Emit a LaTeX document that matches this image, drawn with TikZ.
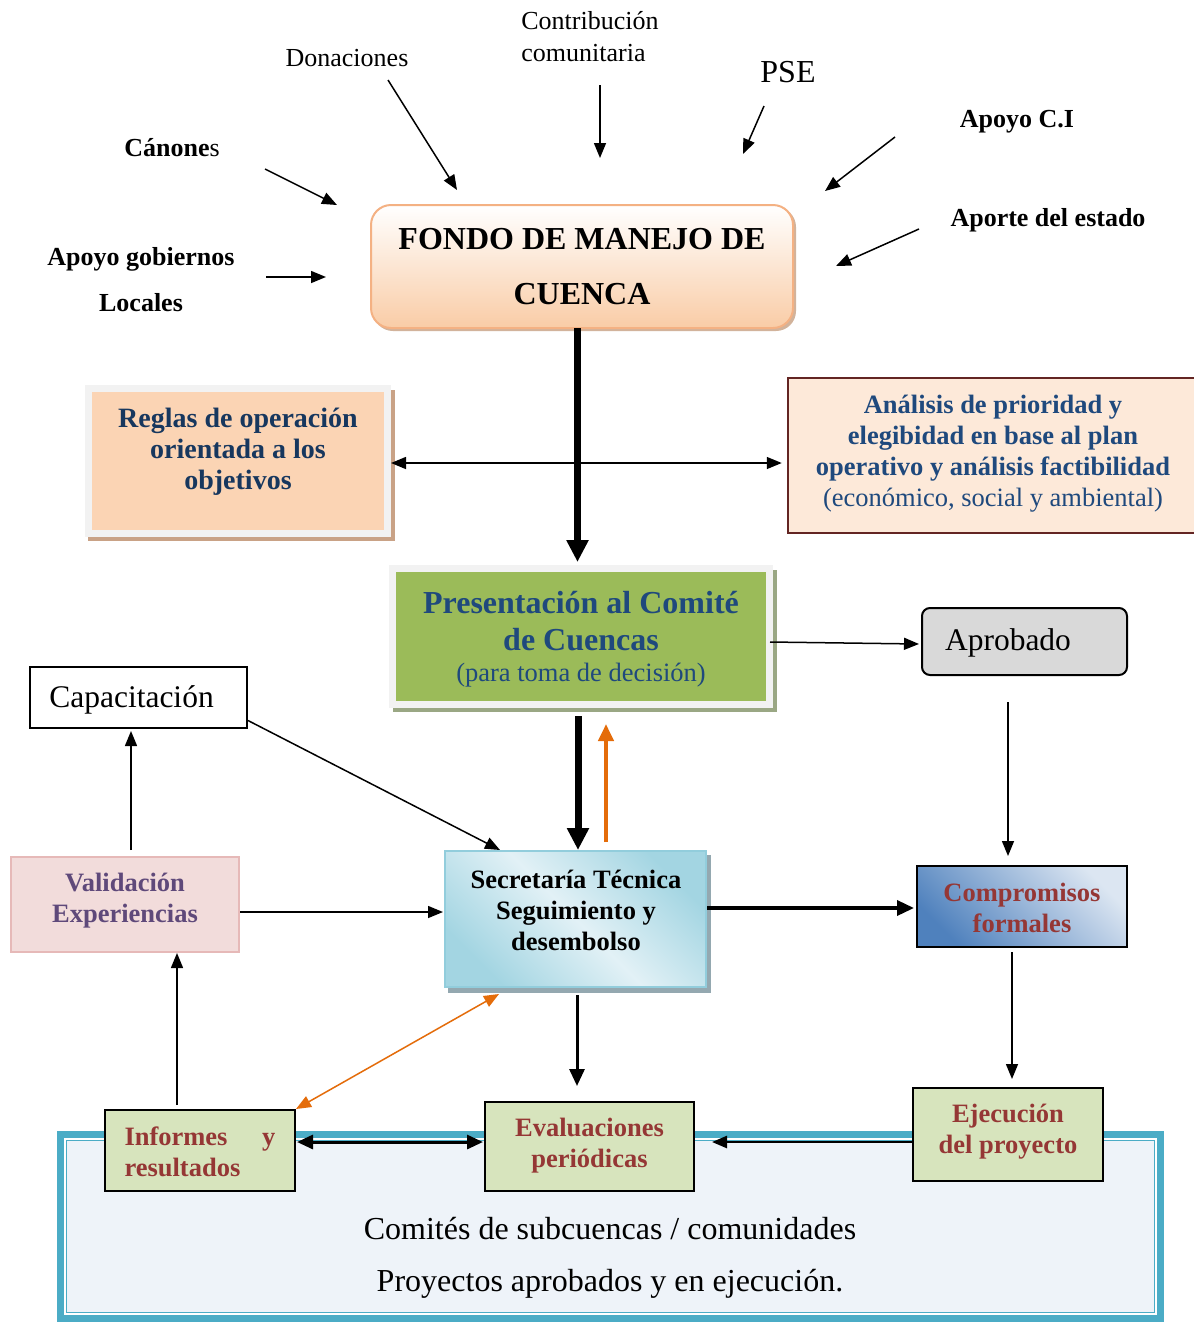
\documentclass[tikz,border=0pt]{standalone}
\usepackage{fontspec}
\setmainfont{Liberation Serif}
\usetikzlibrary{arrows.meta,calc}

\newcommand\myfs[2]{\fontsize{#1}{#2}\selectfont}

\definecolor{peachedge}{HTML}{F4B183}
\definecolor{peachbot}{HTML}{F9CCA6}
\definecolor{peachshadow}{HTML}{D2B39B}
\definecolor{rulefill}{HTML}{FBD4B4}
\definecolor{framegray}{HTML}{F2F2F2}
\definecolor{ruleshadow}{HTML}{C9A286}
\definecolor{prioedge}{HTML}{632523}
\definecolor{priofill}{HTML}{FDE9D9}
\definecolor{navyA}{HTML}{17375E}
\definecolor{navyB}{HTML}{1F497D}
\definecolor{olive}{HTML}{9BBB59}
\definecolor{oliveshadow}{HTML}{9AA784}
\definecolor{apgray}{HTML}{D9D9D9}
\definecolor{valfill}{HTML}{F2DCDB}
\definecolor{valedge}{HTML}{E6B9B8}
\definecolor{valtext}{HTML}{5F497A}
\definecolor{aquadark}{HTML}{A3D5E2}
\definecolor{aqualight}{HTML}{E2F1F6}
\definecolor{aquaedge}{HTML}{92CDDC}
\definecolor{aquashadow}{HTML}{94A8B0}
\definecolor{steel}{HTML}{4F81BD}
\definecolor{steellight}{HTML}{DCE6F2}
\definecolor{brick}{HTML}{953735}
\definecolor{sage}{HTML}{D7E4BD}
\definecolor{tealedge}{HTML}{4BACC6}
\definecolor{basefill}{HTML}{EEF3F9}
\definecolor{flame}{HTML}{E46C0A}

\begin{document}
\begin{tikzpicture}[x=1pt,y=-1pt,
  every node/.style={inner sep=0pt},
  srcreg/.style={font=\myfs{26}{32}, align=center},
  srcbold/.style={font=\myfs{26}{32}\bfseries, align=center},
  boxtxt/.style={font=\myfs{26.5}{31}\bfseries, align=center},
  arr/.style={line width=1.5pt, -{Triangle[length=15pt,width=12pt]}},
  darr/.style={line width=1.5pt, {Triangle[length=15pt,width=12pt]}-{Triangle[length=15pt,width=12pt]}},
  midarr/.style={line width=3.5pt, -{Triangle[length=17pt,width=15pt]}},
  fatarr/.style={line width=6.5pt, -{Triangle[length=22pt,width=21pt]}},
  sagebox/.style={fill=sage, draw=black, line width=2pt},
]
\useasboundingbox (0,0) rectangle (1194,1323);
\fill[white] (0,0) rectangle (1194,1323);

% ---- sources of funding ----
\node[srcreg] (don) at (347,58) {Donaciones};
\node[srcreg, align=left] (contrib) at (590,37) {Contribución\\comunitaria};
\node[font=\myfs{32}{36}] (pse) at (788,72) {PSE};
\node[srcbold] (apci) at (1017,122) {Apoyo C.I};
\node[srcbold] (can) at (172,148) {Cánone{\mdseries s}};
\node[srcbold] (estado) at (1048,220) {Aporte del estado};
\node[font=\myfs{26}{46}\bfseries, align=center] (gob) at (141,280) {Apoyo gobiernos\\Locales};

\coordinate (canA) at (265,169);  \coordinate (canB) at (337,205);
\coordinate (donA) at (388,80);   \coordinate (donB) at (457,190);
\coordinate (conA) at (600,85);   \coordinate (conB) at (600,158);
\coordinate (pseA) at (764,106);  \coordinate (pseB) at (743,154);
\coordinate (apcA) at (895,137);  \coordinate (apcB) at (825,191);
\coordinate (estA) at (919,229);  \coordinate (estB) at (836,266);
\coordinate (gobA) at (266,277);  \coordinate (gobB) at (326,277);

% ---- fund ----
\fill[peachshadow, rounded corners=20pt] (373,207) rectangle (796,331);
\node[draw=peachedge, line width=2pt, rounded corners=20pt,
      top color=white, bottom color=peachbot,
      minimum width=422pt, minimum height=123pt,
      font=\myfs{32}{55}\bfseries, align=center] (fondo) at (582,266.5)
      {FONDO DE MANEJO DE\\CUENCA};

% ---- operating rules ----
\fill[ruleshadow] (88,390) rectangle (395,541);
\node[fill=rulefill, draw=framegray, line width=7pt,
      minimum width=299pt, minimum height=145pt] (reglas) at (238,461) {};
\node[font=\myfs{28}{31}\bfseries, text=navyA, align=center] (reglasT) at (238,452)
      {Reglas de operación\\orientada a los\\objetivos};

% ---- priority analysis ----
\node[fill=priofill, draw=prioedge, line width=2.5pt,
      minimum width=410pt, minimum height=155pt] (anal) at (993,455.5) {};
\node[font=\myfs{26.5}{31}, text=navyB, align=center] (analT) at (993,454)
      {\textbf{Análisis de prioridad y}\\\textbf{elegibidad en base al plan}\\
       \textbf{operativo y análisis factibilidad}\\(económico, social y ambiental)};

% ---- committee ----
\fill[oliveshadow] (393,570) rectangle (777,712);
\node[fill=olive, draw=framegray, line width=7pt,
      minimum width=377pt, minimum height=136pt] (pres) at (581,636.5) {};
\node[font=\myfs{32}{37}\bfseries, text=navyB, align=center] (presT) at (581,621)
      {Presentación al Comité\\de Cuencas};
\node[font=\myfs{26.5}{30}, text=navyB] (presS) at (581,675) {(para toma de decisión)};

% ---- approved ----
\node[fill=apgray, draw=black, line width=2pt, rounded corners=8pt,
      minimum width=205pt, minimum height=67pt] (aprob) at (1024.5,641.5) {};
\node[font=\myfs{31.5}{36}] (aprobT) at (1008,643) {Aprobado};

% ---- training ----
\node[fill=white, draw=black, line width=2pt,
      minimum width=217pt, minimum height=61pt] (cap) at (138.5,697.5) {};
\node[font=\myfs{31.5}{36}] (capT) at (131.5,700) {Capacitación};

% ---- validation ----
\node[fill=valfill, draw=valedge, line width=2pt,
      minimum width=228pt, minimum height=95pt] (val) at (125,904.5) {};
\node[boxtxt, text=valtext] (valT) at (125,901) {Validación\\Experiencias};

% ---- technical secretariat ----
\fill[aquashadow] (448,855) rectangle (711,993);
\node[draw=aquaedge, line width=2pt,
      top color=aquadark, bottom color=aquadark, middle color=aqualight, shading angle=-45,
      minimum width=261pt, minimum height=136pt] (sec) at (575.5,919) {};
\node[boxtxt, text=black] (secT) at (576,910) {Secretaría Técnica\\Seguimiento y\\desembolso};

% ---- commitments ----
\node[draw=black, line width=2pt,
      top color=steellight, bottom color=steel, shading angle=-45,
      minimum width=210pt, minimum height=81pt] (comp) at (1022,906.5) {};
\node[boxtxt, text=brick] (compT) at (1022,908) {Compromisos\\formales};

% ---- sub-basin committees ----
\node[fill=basefill, draw=tealedge, line width=7pt,
      minimum width=1100pt, minimum height=184pt] (base) at (610.5,1226.5) {};
\draw[white, line width=2.5pt] ($(base.south west)+(8,-8)$) rectangle ($(base.north east)+(-8,8)$);
\draw[tealedge, line width=1.6pt] ($(base.south west)+(9.5,-9.5)$) rectangle ($(base.north east)+(-9.5,9.5)$);
\node[font=\myfs{32}{36}] (baseA) at (610,1229) {Comités de subcuencas / comunidades};
\node[font=\myfs{32}{36}] (baseB) at (610,1284) {Proyectos aprobados y en ejecución.};

\node[sagebox, minimum width=190pt, minimum height=81pt] (inf) at (200,1150.5) {};
\node[boxtxt, text=brick, text width=151pt, align=left] (infT) at (200,1152)
      {Informes\hfill y\\resultados};
\node[sagebox, minimum width=209pt, minimum height=89pt] (eval) at (589.5,1146.5) {};
\node[boxtxt, text=brick] (evalT) at (589.5,1145.5) {Evaluaciones\\periódicas};
\node[sagebox, minimum width=190pt, minimum height=93pt] (ejec) at (1008,1134.5) {};
\node[boxtxt, text=brick] (ejecT) at (1008,1131.5) {Ejecución\\del proyecto};

% ---- connectors ----
\draw[arr] (canA) -- (canB);
\draw[arr] (donA) -- (donB);
\draw[arr] (conA) -- (conB);
\draw[arr] (pseA) -- (pseB);
\draw[arr] (apcA) -- (apcB);
\draw[arr] (estA) -- (estB);
\draw[arr] (gobA) -- (gobB);

\draw[fatarr] ($(fondo.south)+(-4.5,-1)$) -- ($(pres.north)+(-3.5,-3)$);
\draw[darr] ($(reglas.east)+(0,2)$) -- ($(anal.west)+(-5,7.5)$);
\draw[arr] ($(pres.east)+(-3,5.5)$) -- ($(aprob.west)+(-2,2.5)$);
\draw[arr] ($(aprob.south)+(-16.5,26)$) -- ($(comp.north)+(-14,-9)$);

\draw[fatarr, line width=7pt] ($(pres.south)+(-3,8)$) -- ($(sec.north)+(2.5,0)$);
\draw[line width=4pt, flame, -{Triangle[length=17pt,width=15pt]}] ($(sec.north)+(30.5,-8)$) -- ($(pres.south)+(25,16)$);

\draw[arr] ($(cap.east)+(0,23)$) -- ($(sec.north)+(-75.5,0)$);
\draw[arr] ($(val.north)+(6,-6)$) -- ($(cap.south)+(-7.5,2)$);
\draw[arr] ($(val.east)+(0,7.5)$) -- ($(sec.west)+(-1,-7)$);
\draw[midarr] ($(sec.east)+(0,-11)$) -- ($(comp.west)+(-2,1.5)$);
\draw[midarr, line width=3pt] ($(sec.south)+(1.5,7)$) -- ($(eval.north)+(-12.5,-15)$);
\draw[darr, flame] ($(sec.south)+(-76.5,6)$) -- (inf.north east);

\draw[arr] ($(inf.north)+(-23,-4)$) -- ($(val.south)+(52,0)$);
\draw[arr] ($(comp.south)+(-10,4)$) -- ($(ejec.north)+(4,-8)$);
\draw[line width=3pt, {Triangle[length=16pt,width=14pt]}-{Triangle[length=16pt,width=14pt]}]
      ($(inf.east)+(1,-8.5)$) -- ($(eval.west)+(-1,-4.5)$);
\draw[arr, line width=2.5pt] ($(ejec.west)+(0,7.5)$) -- ($(eval.east)+(17,-4.5)$);
\end{tikzpicture}
\end{document}
